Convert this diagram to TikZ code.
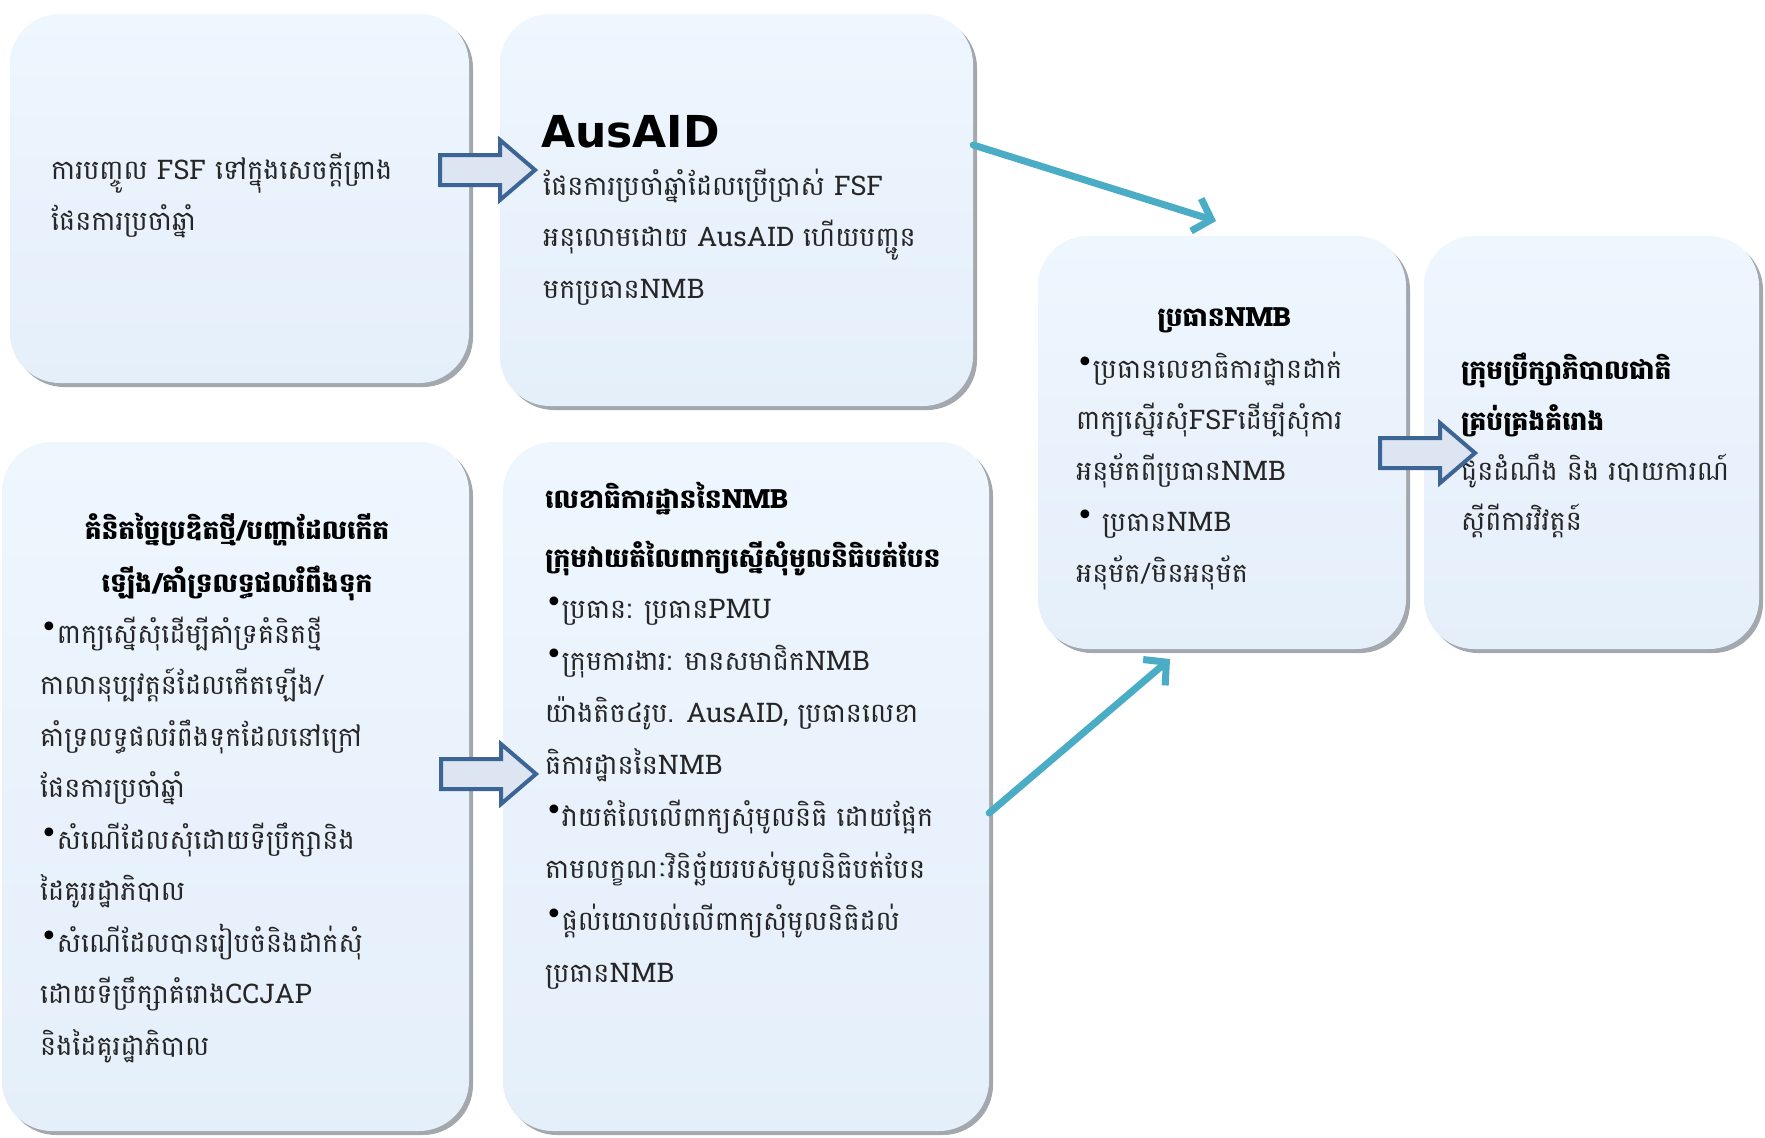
\documentclass[tikz,border=0pt]{standalone}
\usepackage{fontspec}
\usetikzlibrary{arrows.meta,shadows}
\newfontfamily\khmer[Script=Khmer]{Battambang}
\newfontfamily\dv{DejaVu Sans}
\definecolor{boxtop}{HTML}{EEF6FE}
\definecolor{boxbot}{HTML}{E5EFFA}
\definecolor{shadowgray}{HTML}{9A9FA6}
\definecolor{barrowfill}{HTML}{DCE5F1}
\definecolor{barrowline}{HTML}{3C6595}
\definecolor{tealline}{HTML}{4BACC6}
\definecolor{bodytext}{HTML}{262626}
\newcommand\kb{\raisebox{0.22em}{\dv\fontsize{30}{30}\selectfont\color{black}•}\kern-1pt}
\tikzset{
  panel/.style={rounded corners=50pt, top color=boxtop, bottom color=boxbot,
    draw=none, inner sep=0pt,
    drop shadow={shadow xshift=4pt, shadow yshift=-4pt, fill=shadowgray, opacity=0.9}},
  bodytxt/.style={font=\khmer\fontsize{27}{51.5}\selectfont, text=bodytext, align=left, inner sep=0pt},
  titletxt/.style={font=\khmer\bfseries\fontsize{26.5}{53}\selectfont, text=black, inner sep=0pt},
  blockarrow/.style={fill=barrowfill, draw=barrowline, line width=4pt, line join=miter},
  tealarrow/.style={draw=tealline, line width=7pt, line cap=round,
    -{Straight Barb[length=16pt,width=34pt,line width=7pt]}},
}
\begin{document}
\begin{tikzpicture}[x=1pt,y=-1pt]
\useasboundingbox[fill=white] (0,0) rectangle (1765,1138);

% panels
\node[panel, minimum width=459pt, minimum height=369pt] (b1) at (239.5,198.5) {};
\node[panel, minimum width=473pt, minimum height=392pt] (b2) at (736.5,210) {};
\node[panel, minimum width=467pt, minimum height=689pt] (b3) at (235.5,786.5) {};
\node[panel, minimum width=486pt, minimum height=689pt] (b4) at (746,786.5) {};
\node[panel, minimum width=368pt, minimum height=413pt] (b5) at (1222,442.5) {};
\node[panel, minimum width=335pt, minimum height=413pt] (b6) at (1591.5,442.5) {};

% (anchor base = baseline of the LAST line of each text block)
% box 1
\node[bodytxt, anchor=base west] (t1) at (51,230.5)
  {ការបញ្ចូល FSF ទៅក្នុងសេចក្តីព្រាង\\ផែនការប្រចាំឆ្នាំ};

% box 2
\node[font=\dv\bfseries\fontsize{44}{44}\selectfont, inner sep=0pt, anchor=base west] (h2) at (541,147) {AusAID};
\node[bodytxt, anchor=base west] (t2) at (543,298)
  {ផែនការប្រចាំឆ្នាំដែលប្រើប្រាស់ FSF\\អនុលោមដោយ AusAID ហើយបញ្ជូន\\មកប្រធានNMB};

% box 3
\node[titletxt, align=center, anchor=base] (h3) at (237,592)
  {គំនិតច្នៃប្រឌិតថ្មី/បញ្ហាដែលកើត\\ឡើង/គាំទ្រលទ្ធផលរំពឹងទុក};
\node[bodytxt, anchor=base west] (t3) at (40,1055)
  {\kb ពាក្យស្នើសុំដើម្បីគាំទ្រគំនិតថ្មី\\
   កាលានុប្បវត្តន៍ដែលកើតឡើង/\\
   គាំទ្រលទ្ធផលរំពឹងទុកដែលនៅក្រៅ\\
   ផែនការប្រចាំឆ្នាំ\\
   \kb សំណើដែលសុំដោយទីប្រឹក្សានិង\\
   ដៃគូររដ្ឋាភិបាល\\
   \kb សំណើដែលបានរៀបចំនិងដាក់សុំ\\
   ដោយទីប្រឹក្សាគំរោងCCJAP\\
   និងដៃគូរដ្ឋាភិបាល};

% box 4
\node[titletxt, align=left, anchor=base west, font=\khmer\bfseries\fontsize{26.5}{59}\selectfont] (h4) at (545,567)
  {លេខាធិការដ្ឋាននៃNMB\\ក្រុមវាយតំលៃពាក្យស្នើសុំមូលនិធិបត់បែន};
\node[bodytxt, anchor=base west, font=\khmer\fontsize{27}{51.9}\selectfont] (t4) at (545,982)
  {\kb ប្រធាន: ប្រធានPMU\\
   \kb ក្រុមការងារ: មានសមាជិកNMB\\
   យ៉ាងតិច៤រូប. AusAID, ប្រធានលេខា\\
   ធិការដ្ឋាននៃNMB\\
   \kb វាយតំលៃលើពាក្យសុំមូលនិធិ ដោយផ្អែក\\
   តាមលក្ខណៈវិនិច្ឆ័យរបស់មូលនិធិបត់បែន\\
   \kb ផ្តល់យោបល់លើពាក្យសុំមូលនិធិដល់\\
   ប្រធានNMB};

% box 5
\node[titletxt, anchor=base] (h5) at (1224,326) {ប្រធានNMB};
\node[bodytxt, anchor=base west, font=\khmer\fontsize{27}{51}\selectfont] (t5) at (1076,582)
  {\kb ប្រធានលេខាធិការដ្ឋានដាក់\\
   ពាក្យស្នើរសុំFSFដើម្បីសុំការ\\
   អនុម័តពីប្រធានNMB\\
   \kb\ ប្រធានNMB\\
   អនុម័ត/មិនអនុម័ត};

% box 6
\node[titletxt, align=left, anchor=base west, font=\khmer\bfseries\fontsize{26.5}{51}\selectfont] (h6) at (1461,430)
  {ក្រុមប្រឹក្សាភិបាលជាតិ\\គ្រប់គ្រងគំរោង};
\node[bodytxt, anchor=base west, font=\khmer\fontsize{27}{50}\selectfont] (t6) at (1461,530)
  {ជូនដំណឹង និង របាយការណ៍\\ស្តីពីការវិវត្តន៍};

% block arrows
\foreach \ax/\ay in {440/170, 441/774, 1380/453}{
  \draw[blockarrow] (\ax,\ay) ++(0,-15) -- ++(60,0) -- ++(0,-15) -- ++(35,30)
     -- ++(-35,30) -- ++(0,-15) -- ++(-60,0) -- cycle;
}

% teal arrows
\coordinate (a1s) at (b2.east |- 0,145);
\coordinate (a1e) at (1216,221);
\coordinate (a2s) at (b4.east |- 0,813);
\coordinate (a2e) at (1170,659);
\draw[tealarrow] (a1s) -- (a1e);
\draw[tealarrow] (a2s) -- (a2e);
\end{tikzpicture}
\end{document}
